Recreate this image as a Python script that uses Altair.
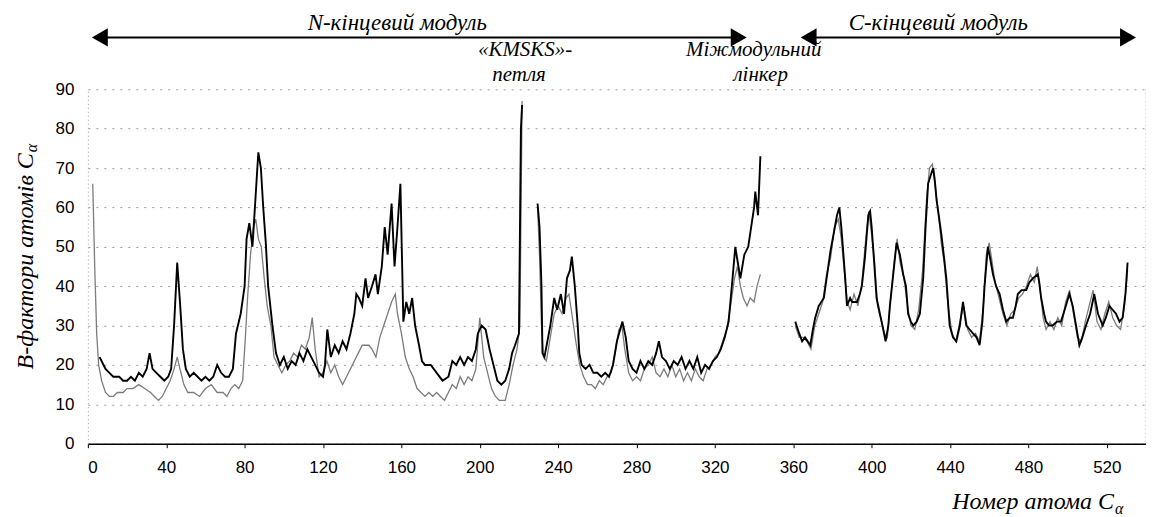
import altair as alt
import pandas as pd

# ---- black series, N-terminal part ----
black_n_x = [6, 7, 9, 11, 13, 16, 18, 20, 22, 24, 26, 28, 30, 31.5, 33, 35, 37, 39, 41, 42.5, 44, 45.6, 47, 48.5,
             50, 52, 54, 56, 58, 60, 62, 64, 66, 68, 70, 72, 74, 75.6, 78, 80, 81, 82.4, 84, 85.5, 87, 88.3, 89.5,
             90.8, 92, 94.2, 96, 98, 100, 102, 104, 106, 108, 110, 112, 114, 116, 118, 120, 121, 122.2, 124, 126,
             128, 130, 132, 134, 136, 137, 138.3, 140, 141.7, 143, 145, 146.8, 148, 150, 151.5, 153, 155, 156.5,
             158, 159.5, 161, 162.5, 164, 165.5, 167, 169, 170.5, 172, 175, 178, 181, 184, 186, 188, 190, 192, 194,
             196, 198, 199, 201, 203, 205, 207, 209, 211, 213, 215, 216.5, 218, 220, 221, 221.6]
black_n_y = [22, 21, 19, 18, 17, 17, 16, 16, 17, 16, 18, 17, 19, 23, 19, 18, 17, 16, 17, 19, 30, 46, 36, 24,
             19, 17, 18, 17, 16, 17, 16, 17, 20, 18, 17, 17, 19, 28, 33, 40, 52, 56, 50, 62, 74, 70, 60,
             51, 40, 30, 23, 20, 22, 19, 21, 20, 23, 21, 24, 22, 20, 18, 17, 20, 29, 22, 25,
             23, 26, 24, 28, 33, 38, 37, 35, 42, 37, 40, 43, 38, 45, 55, 48, 61, 45,
             55, 66, 31, 36, 33, 37, 30, 25, 21, 20, 20, 18, 16, 17, 21, 20, 22, 20, 22,
             21, 24, 28, 30, 29, 24, 20, 16, 15, 16, 19, 23, 25, 28, 80, 86]

# ---- grey series, N-terminal part ----
grey_n_x = [2.5, 3.5, 4.5, 5.5, 7, 9, 11, 13, 15, 18, 20, 23, 26, 29, 32, 34, 36, 38, 40, 42, 44, 45.6, 47, 49,
            51, 54, 57, 60, 63, 66, 69, 71, 73, 75, 77, 79, 80.5, 81.5, 83, 84.5, 85.7, 87, 88.5, 90, 91.5, 93.4,
            95, 97, 99, 101, 103, 105, 107, 109, 111, 113, 114.5, 116, 118, 120, 122, 124, 126, 128, 130, 132,
            134, 136, 138, 140, 143.4, 145, 147, 149, 151, 153, 155, 156.9, 158, 160, 162, 164, 166, 168, 170,
            172, 174, 176, 178, 180, 182, 184, 186, 188, 190, 192, 194, 196, 198, 200, 202, 204, 206, 208, 210,
            213, 215, 217, 219, 220.5, 221.6]
grey_n_y = [66, 45, 28, 20, 16, 13, 12, 12, 13, 13, 14, 14, 15, 14, 13, 12, 11, 12, 14, 16, 19, 22, 19, 15,
            13, 13, 12, 14, 15, 13, 13, 12, 14, 15, 14, 16, 28, 37, 48, 55, 57, 52, 50, 42, 35, 30,
            22, 20, 18, 20, 21, 23, 22, 25, 24, 27, 32, 24, 17, 18, 21, 18, 20, 17, 15, 17,
            19, 21, 23, 25, 25, 24, 22, 27, 30, 33, 36, 38, 33, 28, 22, 19, 17, 14, 13,
            12, 13, 12, 13, 12, 11, 13, 15, 14, 17, 15, 17, 16, 19, 32, 22, 18, 14, 12, 11,
            11, 15, 20, 24, 30, 87]

# ---- black series, middle part ----
black_m_x = [229.5, 230.5, 231.5, 232, 233, 234.5, 236, 238, 239.5, 241.4, 243, 244.5, 246, 247, 248.5, 250,
             250.8, 252, 254, 256, 258, 260, 262, 264, 266, 268, 270, 272.8, 274.5, 276, 278, 280, 282, 284,
             286, 288, 290, 291.4, 293, 295, 297, 299, 301, 303, 305, 307, 309, 311, 313, 315, 317, 319, 321,
             323, 325, 327, 329, 330.4, 332, 333, 335, 337, 338.5, 340, 340.6, 342, 343.2]
black_m_y = [61, 55, 40, 23, 22, 26, 30, 37, 34, 38, 33, 42, 44, 47.5, 40, 30,
             23, 20, 19, 20, 18, 18, 17, 18, 17, 20, 26, 31, 27, 21, 19, 18, 21, 19,
             21, 20, 23, 26, 22, 21, 19, 21, 20, 22, 19, 21, 19, 22, 18, 20, 19, 21, 22,
             24, 27, 31, 42, 50, 45, 42, 48, 50, 55, 60, 64, 58, 73]

# ---- grey series, middle part ----
grey_m_x = [229.5, 230.5, 231.5, 232.5, 234, 236, 238, 240, 242, 244, 245.5, 247, 249, 251, 253, 255, 257, 259,
            261, 263, 265, 267, 269, 271, 272.5, 274, 276, 278, 280, 282, 284, 286, 288, 290, 292, 294, 296,
            298, 300, 302, 304, 306, 308, 310, 312, 314, 316, 318, 320, 322, 324, 326, 328, 330, 331.5, 333,
            334.5, 336.4, 338, 340, 341.5, 343.2]
grey_m_y = [60, 48, 30, 22, 21, 27, 33, 35, 33, 37, 38, 33, 26, 20, 17, 15, 15, 14,
            16, 15, 17, 18, 23, 29, 30, 24, 18, 16, 17, 16, 19, 20, 22, 18, 17, 19, 17,
            20, 17, 19, 16, 18, 16, 19, 17, 16, 19, 20, 22, 23, 26, 29, 35, 42, 45, 40,
            37, 35, 37, 36, 40, 43]

# ---- black series, C-terminal part ----
black_c_x = [361, 363, 364.5, 366, 368.7, 370, 371.2, 373, 375.6, 377, 379, 380.5, 382.3, 383.5, 384.5, 385.3,
             386.5, 387.4, 389, 390, 392.5, 394, 395, 396.5, 398.3, 399.2, 400, 401, 402.5, 404.2, 405.5, 407.1,
             408.5, 409.3, 411, 412.7, 414.4, 416.1, 417.5, 418.6, 420, 421.2, 423, 424.6, 426.3, 427.5, 428.8,
             430, 431.4, 432.2, 433.1, 434.5, 435.6, 437, 438.1, 439.8, 441.5, 443.2, 445, 446.6, 448.3, 450,
             451.7, 453.5, 455.1, 456.5, 457.6, 459.3, 460.5, 461.9, 463.5, 465.3, 467, 468.7, 470.5, 472.1,
             473.5, 474.6, 476.5, 478.9, 480.5, 482.3, 484.8, 485.5, 486.5, 488, 489, 490.5, 492.4, 494.5, 496.6,
             498.5, 500.9, 502.6, 504.3, 506, 507.5, 509.4, 511.5, 513.6, 515.5, 517.9, 519.5, 521.3, 523, 524.7,
             526.5, 528.1, 529.5, 530.6]
black_c_y = [31, 28, 26, 27, 25, 29, 32, 35, 37, 42, 49, 53, 58, 60, 55, 50,
             42, 35, 37, 36, 36, 38, 40, 47, 58, 59, 55, 48, 37, 33, 30, 26,
             30, 35, 43, 51, 48, 43, 40, 33, 31, 30, 31, 33, 42, 55, 66,
             68, 70, 67, 62, 57, 53, 47, 42, 30, 27, 26, 30, 36, 30, 29,
             28, 27, 25, 31, 40, 50, 47, 43, 40, 38, 34, 31, 32, 32,
             35, 38, 39, 39, 41, 42, 43, 41, 37, 33, 31, 30, 30, 31, 31,
             34, 38, 35, 30, 25, 27, 30, 33, 38, 33, 30, 32, 35, 34, 33,
             31, 32, 38, 46]

# ---- grey series, C-terminal part ----
grey_c_x = [361, 363, 365, 367, 369, 371, 373, 375, 377, 379, 381, 383, 384.5, 386, 387.5, 389, 391, 393, 395,
            397, 398.5, 400, 401.5, 403, 405, 406.5, 408, 409.5, 411.5, 413, 414.5, 416.5, 418, 420, 422, 424,
            426, 428, 429.5, 431, 432.5, 434, 435.5, 437, 439, 441, 443, 445, 447, 449, 451, 453, 455, 457,
            458.5, 460, 461.5, 463, 465, 467, 469, 471, 473, 475, 477, 479, 481, 483, 484.5, 486, 487.5, 489,
            491, 493, 495, 497, 499, 501, 503, 505, 507, 509, 511, 513, 515, 517, 519, 521, 523, 525, 527, 529,
            530.6]
grey_c_y = [30, 27, 27, 26, 24, 30, 33, 36, 43, 47, 55, 57, 52, 44, 36, 34, 38, 35, 41,
            52, 59, 53, 46, 35, 31, 28, 27, 36, 46, 52, 46, 42, 36, 30, 29, 34,
            44, 62, 70, 71, 65, 59, 51, 46, 35, 28, 26, 31, 35, 29, 27, 28, 26, 35,
            48, 51, 46, 41, 37, 33, 30, 33, 34, 37, 38, 40, 43, 41, 45, 39, 32, 29,
            31, 29, 32, 30, 36, 39, 33, 27, 26, 31, 35, 39, 31, 29, 33, 36, 32, 30, 29, 35,
            44]

x_ticks = [0, 40, 80, 120, 160, 200, 240, 280, 320, 360, 400, 440, 480, 520]
y_ticks = [0, 10, 20, 30, 40, 50, 60, 70, 80, 90]


def frame(xs, ys, series, seg):
    return pd.DataFrame({"x": xs, "y": ys, "series": series, "seg": seg})


df = pd.concat([
    frame(grey_n_x, grey_n_y, "grey", "g1"),
    frame(grey_m_x, grey_m_y, "grey", "g2"),
    frame(grey_c_x, grey_c_y, "grey", "g3"),
    frame(black_n_x, black_n_y, "black", "b1"),
    frame(black_m_x, black_m_y, "black", "b2"),
    frame(black_c_x, black_c_y, "black", "b3"),
], ignore_index=True)

W, H = 1060, 355
SERIF = "Liberation Serif"
SANS = "Liberation Sans"

xscale = alt.Scale(domain=[0, 540], nice=False, zero=False)
yscale = alt.Scale(domain=[0, 90], nice=False)

x_axis = alt.Axis(values=x_ticks, title=None, grid=False, labelFont=SANS, labelFontSize=17,
                  labelColor="black", domainColor="black", domainWidth=1.5, tickColor="black",
                  tickSize=4, labelPadding=12, labelAngle=0)
y_axis = alt.Axis(values=y_ticks, title=None, grid=True, gridColor="#9a9a9a", gridDash=[2, 6],
                  gridWidth=1, labelFont=SANS, labelFontSize=17, labelColor="black",
                  domainColor="#9a9a9a", domainDash=[1, 3], ticks=False, labelPadding=14)

base = alt.Chart(df)
grey = base.transform_filter(alt.datum.series == "grey").mark_line(
    color="#7c7c7c", strokeWidth=1.3).encode(
    x=alt.X("x:Q", scale=xscale, axis=x_axis),
    y=alt.Y("y:Q", scale=yscale, axis=y_axis),
    detail="seg:N")
black = base.transform_filter(alt.datum.series == "black").mark_line(
    color="black", strokeWidth=1.9).encode(
    x=alt.X("x:Q", scale=xscale, axis=x_axis),
    y=alt.Y("y:Q", scale=yscale, axis=y_axis),
    detail="seg:N")

one = pd.DataFrame({"k": [0]})


def label(text, x, y, size=21, align="center", angle=0, baseline="middle"):
    return alt.Chart(one).mark_text(text=text, font=SERIF, fontStyle="italic", fontSize=size, align=align,
                                    baseline=baseline, angle=angle, color="black").encode(
        x=alt.value(x), y=alt.value(y))


def hline(x1, x2, y, width=2, color="black"):
    return alt.Chart(one).mark_rule(color=color, strokeWidth=width).encode(
        x=alt.value(x1), x2=alt.value(x2), y=alt.value(y))


def head(x, y, shape):
    return alt.Chart(one).mark_point(shape=shape, filled=True, size=340, color="black", opacity=1).encode(
        x=alt.value(x), y=alt.value(y))


border = alt.Chart(one).mark_rule(color="#9a9a9a", strokeDash=[1, 3], strokeWidth=1).encode(
    x=alt.value(W), y=alt.value(0), y2=alt.value(H))

arrow_y = -52
layers = [
    grey, black, border,
    hline(10, 652, arrow_y), head(12, arrow_y, "triangle-left"), head(652, arrow_y, "triangle-right"),
    hline(722, 1044, arrow_y), head(722, arrow_y, "triangle-left"), head(1042, arrow_y, "triangle-right"),
    label("N-кінцевий модуль", 310, -66, size=23),
    label("C-кінцевий модуль", 852, -66, size=23),
    label("«KMSKS»-", 438, -39),
    label("петля", 432, -14),
    label("Міжмодульний", 667, -39),
    label("лінкер", 674, -14),
    # y-axis title with subscript alpha
    label("B-фактори атомів C", -62, 64, size=24, align="right", angle=270),
    label("α", -56, 63, size=16, align="left", angle=270),
    # x-axis title with subscript alpha
    label("Номер атома C", 1028, 420, size=24, align="right", baseline="alphabetic"),
    label("α", 1029, 425, size=16, align="left", baseline="alphabetic"),
]

chart = alt.layer(*layers).properties(
    width=W, height=H,
    autosize=alt.AutoSizeParams(type="none"),
    padding={"left": 80, "top": 81, "right": 0, "bottom": 75},
).configure_view(stroke=None)

chart.save("out.html", embed_options={"renderer": "svg", "actions": False})
